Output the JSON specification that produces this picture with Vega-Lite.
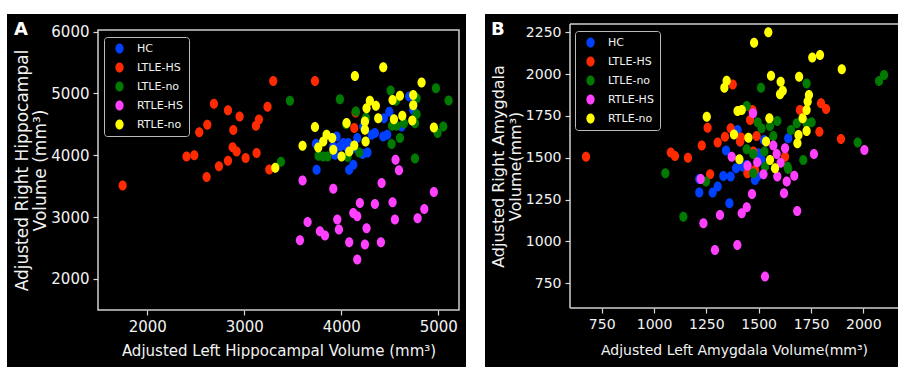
{
"$schema": "https://vega.github.io/schema/vega-lite/v6.json",
"background": "white",
"padding": {"left": 7, "top": 14, "right": 0, "bottom": 0},
"spacing": 19,
"config": {
  "view": {"fill": "black", "stroke": null},
  "font": "DejaVu Sans",
  "axis": {"domain": false, "grid": false, "format": "d", "labelColor": "#f2f2f2", "tickColor": "#d8d8d8", "tickSize": 5, "tickWidth": 1.2, "titleColor": "#f2f2f2", "titleFontWeight": "normal", "labelFont": "DejaVu Sans", "titleFont": "DejaVu Sans", "labelPadding": 4},
  "legend": {"title": null, "orient": "none", "symbolType": "M-0.82,0A0.82,1,0,1,0,0.82,0A0.82,1,0,1,0,-0.82,0Z", "symbolSize": 100, "symbolOpacity": 1, "symbolStrokeWidth": 0, "labelFontSize": 11, "labelColor": "#f2f2f2", "labelFont": "DejaVu Sans", "strokeColor": "#bbbbbb", "fillColor": "black", "padding": 6, "rowPadding": 7, "cornerRadius": 3, "symbolOffset": 4, "labelOffset": 12}
},
"resolve": {"scale": {"color": "independent", "x": "independent", "y": "independent"}, "legend": {"color": "independent"}},
"datasets": {
 "A": [
  {"g":"HC","x":3746,"y":3766},{"g":"HC","x":3739,"y":4186},{"g":"HC","x":3952,"y":4304},{"g":"HC","x":3918,"y":4143},{"g":"HC","x":3935,"y":4008},{"g":"HC","x":3986,"y":4143},{"g":"HC","x":4021,"y":4196},{"g":"HC","x":4072,"y":4196},{"g":"HC","x":4082,"y":3766},{"g":"HC","x":4124,"y":3847},{"g":"HC","x":4165,"y":4277},{"g":"HC","x":4227,"y":4466},{"g":"HC","x":4220,"y":4019},{"g":"HC","x":4271,"y":4046},{"g":"HC","x":4313,"y":4331},{"g":"HC","x":4347,"y":4358},{"g":"HC","x":4440,"y":4600},{"g":"HC","x":4433,"y":4304},{"g":"HC","x":4474,"y":4331},{"g":"HC","x":4495,"y":4703},{"g":"HC","x":4622,"y":4466},{"g":"HC","x":4701,"y":4950},{"g":"HC","x":4742,"y":4735},{"g":"HC","x":4010,"y":4170},{"g":"HC","x":4055,"y":4143},{"g":"HC","x":4124,"y":4116},
  {"g":"LTLE-HS","x":1746,"y":3510},{"g":"LTLE-HS","x":2405,"y":3981},{"g":"LTLE-HS","x":2485,"y":4000},{"g":"LTLE-HS","x":2612,"y":3647},{"g":"LTLE-HS","x":2536,"y":4374},{"g":"LTLE-HS","x":2619,"y":4493},{"g":"LTLE-HS","x":2687,"y":4832},{"g":"LTLE-HS","x":2739,"y":3820},{"g":"LTLE-HS","x":2832,"y":3910},{"g":"LTLE-HS","x":2832,"y":4729},{"g":"LTLE-HS","x":2887,"y":4408},{"g":"LTLE-HS","x":2880,"y":4130},{"g":"LTLE-HS","x":2921,"y":4062},{"g":"LTLE-HS","x":2952,"y":4627},{"g":"LTLE-HS","x":3014,"y":3957},{"g":"LTLE-HS","x":3127,"y":4035},{"g":"LTLE-HS","x":3120,"y":4476},{"g":"LTLE-HS","x":3151,"y":4578},{"g":"LTLE-HS","x":3240,"y":4786},{"g":"LTLE-HS","x":3258,"y":3768},{"g":"LTLE-HS","x":3299,"y":5203},{"g":"LTLE-HS","x":3729,"y":5203},{"g":"LTLE-HS","x":4134,"y":4439},{"g":"LTLE-HS","x":4148,"y":4690},
  {"g":"LTLE-no","x":3471,"y":4880},{"g":"LTLE-no","x":3378,"y":3895},{"g":"LTLE-no","x":3766,"y":3992},{"g":"LTLE-no","x":3814,"y":3981},{"g":"LTLE-no","x":3859,"y":3981},{"g":"LTLE-no","x":3986,"y":4907},{"g":"LTLE-no","x":4151,"y":4708},{"g":"LTLE-no","x":4247,"y":4573},{"g":"LTLE-no","x":4185,"y":4046},{"g":"LTLE-no","x":4509,"y":5047},{"g":"LTLE-no","x":4564,"y":4880},{"g":"LTLE-no","x":4522,"y":4476},{"g":"LTLE-no","x":4570,"y":4476},{"g":"LTLE-no","x":4605,"y":4277},{"g":"LTLE-no","x":4519,"y":4180},{"g":"LTLE-no","x":4646,"y":4519},{"g":"LTLE-no","x":4760,"y":3948},{"g":"LTLE-no","x":4777,"y":4923},{"g":"LTLE-no","x":4777,"y":4664},{"g":"LTLE-no","x":4760,"y":4519},{"g":"LTLE-no","x":4976,"y":5085},{"g":"LTLE-no","x":5052,"y":4466},{"g":"LTLE-no","x":5107,"y":4886},{"g":"LTLE-no","x":4993,"y":4358},{"g":"LTLE-no","x":4050,"y":4500},{"g":"LTLE-no","x":4254,"y":4606},{"g":"LTLE-no","x":4065,"y":3970},
  {"g":"RTLE-HS","x":3601,"y":3593},{"g":"RTLE-HS","x":3574,"y":2625},{"g":"RTLE-HS","x":3653,"y":2920},{"g":"RTLE-HS","x":3780,"y":2770},{"g":"RTLE-HS","x":3832,"y":2700},{"g":"RTLE-HS","x":3918,"y":3456},{"g":"RTLE-HS","x":3959,"y":2958},{"g":"RTLE-HS","x":3976,"y":2797},{"g":"RTLE-HS","x":4082,"y":2592},{"g":"RTLE-HS","x":4124,"y":3066},{"g":"RTLE-HS","x":4165,"y":3012},{"g":"RTLE-HS","x":4192,"y":3228},{"g":"RTLE-HS","x":4165,"y":2312},{"g":"RTLE-HS","x":4244,"y":2554},{"g":"RTLE-HS","x":4261,"y":2818},{"g":"RTLE-HS","x":4347,"y":3212},{"g":"RTLE-HS","x":4409,"y":2592},{"g":"RTLE-HS","x":4416,"y":3550},{"g":"RTLE-HS","x":4529,"y":3238},{"g":"RTLE-HS","x":4553,"y":2958},{"g":"RTLE-HS","x":4560,"y":3927},{"g":"RTLE-HS","x":4595,"y":3755},{"g":"RTLE-HS","x":4787,"y":2980},{"g":"RTLE-HS","x":4856,"y":3131},{"g":"RTLE-HS","x":4955,"y":3405},
  {"g":"RTLE-no","x":3320,"y":3798},{"g":"RTLE-no","x":3601,"y":4154},{"g":"RTLE-no","x":3729,"y":4455},{"g":"RTLE-no","x":3763,"y":4127},{"g":"RTLE-no","x":3814,"y":4224},{"g":"RTLE-no","x":3849,"y":4331},{"g":"RTLE-no","x":3907,"y":4277},{"g":"RTLE-no","x":3918,"y":4089},{"g":"RTLE-no","x":4003,"y":3981},{"g":"RTLE-no","x":4055,"y":4520},{"g":"RTLE-no","x":4082,"y":4062},{"g":"RTLE-no","x":4134,"y":4159},{"g":"RTLE-no","x":4141,"y":5284},{"g":"RTLE-no","x":4244,"y":4547},{"g":"RTLE-no","x":4244,"y":4412},{"g":"RTLE-no","x":4251,"y":4224},{"g":"RTLE-no","x":4261,"y":4762},{"g":"RTLE-no","x":4295,"y":4880},{"g":"RTLE-no","x":4357,"y":4800},{"g":"RTLE-no","x":4381,"y":4600},{"g":"RTLE-no","x":4433,"y":5424},{"g":"RTLE-no","x":4529,"y":4892},{"g":"RTLE-no","x":4543,"y":4584},{"g":"RTLE-no","x":4605,"y":4962},{"g":"RTLE-no","x":4629,"y":4638},{"g":"RTLE-no","x":4732,"y":4563},{"g":"RTLE-no","x":4742,"y":4973},{"g":"RTLE-no","x":4742,"y":4811},{"g":"RTLE-no","x":4828,"y":5176},{"g":"RTLE-no","x":4955,"y":4450}
 ],
 "B": [
  {"g":"HC","x":1216,"y":1374},{"g":"HC","x":1216,"y":1292},{"g":"HC","x":1280,"y":1292},{"g":"HC","x":1304,"y":1328},{"g":"HC","x":1331,"y":1391},{"g":"HC","x":1344,"y":1543},{"g":"HC","x":1366,"y":1388},{"g":"HC","x":1360,"y":1228},{"g":"HC","x":1392,"y":1437},{"g":"HC","x":1399,"y":1666},{"g":"HC","x":1411,"y":1597},{"g":"HC","x":1424,"y":1447},{"g":"HC","x":1443,"y":1457},{"g":"HC","x":1482,"y":1368},{"g":"HC","x":1493,"y":1388},{"g":"HC","x":1498,"y":1527},{"g":"HC","x":1514,"y":1487},{"g":"HC","x":1525,"y":1607},{"g":"HC","x":1641,"y":1617},
  {"g":"LTLE-HS","x":675,"y":1507},{"g":"LTLE-HS","x":1080,"y":1531},{"g":"LTLE-HS","x":1100,"y":1511},{"g":"LTLE-HS","x":1162,"y":1501},{"g":"LTLE-HS","x":1228,"y":1573},{"g":"LTLE-HS","x":1256,"y":1680},{"g":"LTLE-HS","x":1268,"y":1401},{"g":"LTLE-HS","x":1304,"y":1591},{"g":"LTLE-HS","x":1339,"y":1626},{"g":"LTLE-HS","x":1366,"y":1676},{"g":"LTLE-HS","x":1376,"y":1939},{"g":"LTLE-HS","x":1411,"y":1597},{"g":"LTLE-HS","x":1416,"y":1622},{"g":"LTLE-HS","x":1459,"y":1726},{"g":"LTLE-HS","x":1470,"y":1786},{"g":"LTLE-HS","x":1446,"y":1407},{"g":"LTLE-HS","x":1482,"y":1427},{"g":"LTLE-HS","x":1490,"y":1630},{"g":"LTLE-HS","x":1474,"y":1537},{"g":"LTLE-HS","x":1626,"y":1507},{"g":"LTLE-HS","x":1697,"y":1786},{"g":"LTLE-HS","x":1790,"y":1656},{"g":"LTLE-HS","x":1798,"y":1826},{"g":"LTLE-HS","x":1822,"y":1792},{"g":"LTLE-HS","x":1893,"y":1613},
  {"g":"LTLE-no","x":1054,"y":1407},{"g":"LTLE-no","x":1140,"y":1148},{"g":"LTLE-no","x":1248,"y":1358},{"g":"LTLE-no","x":1443,"y":1810},{"g":"LTLE-no","x":1443,"y":1551},{"g":"LTLE-no","x":1474,"y":1407},{"g":"LTLE-no","x":1474,"y":1523},{"g":"LTLE-no","x":1495,"y":1712},{"g":"LTLE-no","x":1511,"y":1919},{"g":"LTLE-no","x":1514,"y":1676},{"g":"LTLE-no","x":1527,"y":1537},{"g":"LTLE-no","x":1530,"y":1447},{"g":"LTLE-no","x":1554,"y":1690},{"g":"LTLE-no","x":1570,"y":1630},{"g":"LTLE-no","x":1589,"y":1720},{"g":"LTLE-no","x":1638,"y":1447},{"g":"LTLE-no","x":1641,"y":1433},{"g":"LTLE-no","x":1654,"y":1666},{"g":"LTLE-no","x":1682,"y":1706},{"g":"LTLE-no","x":1713,"y":1487},{"g":"LTLE-no","x":1729,"y":1945},{"g":"LTLE-no","x":1729,"y":1706},{"g":"LTLE-no","x":1753,"y":1712},{"g":"LTLE-no","x":1973,"y":1591},{"g":"LTLE-no","x":2075,"y":1959},{"g":"LTLE-no","x":2099,"y":1995},
  {"g":"RTLE-HS","x":1223,"y":1374},{"g":"RTLE-HS","x":1236,"y":1108},{"g":"RTLE-HS","x":1291,"y":949},{"g":"RTLE-HS","x":1315,"y":1158},{"g":"RTLE-HS","x":1371,"y":1507},{"g":"RTLE-HS","x":1398,"y":979},{"g":"RTLE-HS","x":1419,"y":1168},{"g":"RTLE-HS","x":1443,"y":1204},{"g":"RTLE-HS","x":1447,"y":1453},{"g":"RTLE-HS","x":1468,"y":1284},{"g":"RTLE-HS","x":1473,"y":1766},{"g":"RTLE-HS","x":1493,"y":1473},{"g":"RTLE-HS","x":1523,"y":1401},{"g":"RTLE-HS","x":1530,"y":790},{"g":"RTLE-HS","x":1570,"y":1573},{"g":"RTLE-HS","x":1586,"y":1523},{"g":"RTLE-HS","x":1589,"y":1388},{"g":"RTLE-HS","x":1605,"y":1471},{"g":"RTLE-HS","x":1626,"y":1557},{"g":"RTLE-HS","x":1621,"y":1288},{"g":"RTLE-HS","x":1634,"y":1358},{"g":"RTLE-HS","x":1670,"y":1393},{"g":"RTLE-HS","x":1684,"y":1182},{"g":"RTLE-HS","x":1764,"y":1523},{"g":"RTLE-HS","x":2005,"y":1547},
  {"g":"RTLE-no","x":1252,"y":1746},{"g":"RTLE-no","x":1336,"y":1919},{"g":"RTLE-no","x":1347,"y":1961},{"g":"RTLE-no","x":1382,"y":1640},{"g":"RTLE-no","x":1399,"y":1780},{"g":"RTLE-no","x":1419,"y":1786},{"g":"RTLE-no","x":1408,"y":1491},{"g":"RTLE-no","x":1451,"y":1620},{"g":"RTLE-no","x":1478,"y":2188},{"g":"RTLE-no","x":1535,"y":1597},{"g":"RTLE-no","x":1546,"y":2250},{"g":"RTLE-no","x":1551,"y":1736},{"g":"RTLE-no","x":1554,"y":1487},{"g":"RTLE-no","x":1559,"y":1991},{"g":"RTLE-no","x":1578,"y":1437},{"g":"RTLE-no","x":1605,"y":1955},{"g":"RTLE-no","x":1602,"y":1880},{"g":"RTLE-no","x":1615,"y":1901},{"g":"RTLE-no","x":1693,"y":1985},{"g":"RTLE-no","x":1685,"y":1587},{"g":"RTLE-no","x":1690,"y":1637},{"g":"RTLE-no","x":1710,"y":1736},{"g":"RTLE-no","x":1729,"y":1660},{"g":"RTLE-no","x":1729,"y":1786},{"g":"RTLE-no","x":1734,"y":1836},{"g":"RTLE-no","x":1740,"y":1875},{"g":"RTLE-no","x":1756,"y":2099},{"g":"RTLE-no","x":1793,"y":2115},{"g":"RTLE-no","x":1897,"y":2029}
 ]
},
"hconcat": [
 {
  "width": 459, "height": 353,
  "title": {"text": "A", "anchor": "start", "frame": "group", "offset": -25, "dx": 7, "fontSize": 18, "fontWeight": "bold", "color": "white", "font": "DejaVu Sans"},
  "data": {"name": "A"},
  "layer": [
   {
    "mark": {"type": "point", "filled": true, "opacity": 1, "size": 100, "strokeWidth": 0, "shape": "M-0.82,0A0.82,1,0,1,0,0.82,0A0.82,1,0,1,0,-0.82,0Z"},
    "encoding": {
     "x": {"field": "x", "type": "quantitative", "scale": {"domain": [1492, 5214], "range": [91, 452], "nice": false, "zero": false},
           "axis": {"values": [2000, 3000, 4000, 5000], "offset": -57, "title": "Adjusted Left Hippocampal Volume (mm³)", "labelFontSize": 15, "titleFontSize": 15, "titlePadding": 9}},
     "y": {"field": "y", "type": "quantitative", "scale": {"domain": [1495, 6027], "range": [296, 16], "nice": false, "zero": false},
           "axis": {"values": [2000, 3000, 4000, 5000, 6000], "offset": -91, "title": ["Adjusted Right Hippocampal", "Volume (mm³)"], "labelFontSize": 15, "titleFontSize": 17, "titleLineHeight": 18, "titlePadding": 1}},
     "color": {"field": "g", "type": "nominal", "scale": {"domain": ["HC", "LTLE-HS", "LTLE-no", "RTLE-HS", "RTLE-no"], "range": ["#0040ff", "#ff2a00", "#007a00", "#ff40ff", "#ffff00"]},
               "legend": {"legendX": 97, "legendY": 23}}
    }
   },
   {
    "data": {"values": [{}]},
    "mark": {"type": "rect", "filled": false, "stroke": "#d0d0d0", "strokeWidth": 1.5},
    "encoding": {"x": {"datum": 1492}, "x2": {"datum": 5214}, "y": {"datum": 1495}, "y2": {"datum": 6027}}
   }
  ]
 },
 {
  "width": 413, "height": 353,
  "title": {"text": "B", "anchor": "start", "frame": "group", "offset": -25, "dx": 6, "fontSize": 18, "fontWeight": "bold", "color": "white", "font": "DejaVu Sans"},
  "data": {"name": "B"},
  "layer": [
   {
    "mark": {"type": "point", "filled": true, "opacity": 1, "size": 100, "strokeWidth": 0, "shape": "M-0.82,0A0.82,1,0,1,0,0.82,0A0.82,1,0,1,0,-0.82,0Z"},
    "encoding": {
     "x": {"field": "x", "type": "quantitative", "scale": {"domain": [598.5, 2165.6], "range": [85, 413], "nice": false, "zero": false},
           "axis": {"values": [750, 1000, 1250, 1500, 1750, 2000], "offset": -59, "title": "Adjusted Left Amygdala Volume(mm³)", "labelFontSize": 14, "titleFontSize": 14, "titlePadding": 12}},
     "y": {"field": "y", "type": "quantitative", "scale": {"domain": [602, 2300], "range": [294, 10], "nice": false, "zero": false},
           "axis": {"values": [750, 1000, 1250, 1500, 1750, 2000, 2250], "offset": -85, "title": ["Adjusted Right Amygdala", "Volume(mm³)"], "labelFontSize": 14, "titleFontSize": 16, "titleLineHeight": 17, "titlePadding": 2}},
     "color": {"field": "g", "type": "nominal", "scale": {"domain": ["HC", "LTLE-HS", "LTLE-no", "RTLE-HS", "RTLE-no"], "range": ["#0040ff", "#ff2a00", "#007a00", "#ff40ff", "#ffff00"]},
               "legend": {"legendX": 90, "legendY": 17}}
    }
   },
   {
    "data": {"values": [{}]},
    "mark": {"type": "rule", "stroke": "#d0d0d0", "strokeWidth": 1.5},
    "encoding": {"x": {"datum": 598.5}, "y": {"datum": 602}, "y2": {"datum": 2300}}
   },
   {
    "data": {"values": [{}]},
    "mark": {"type": "rule", "stroke": "#d0d0d0", "strokeWidth": 1.5},
    "encoding": {"x": {"datum": 598.5}, "x2": {"datum": 2165.6}, "y": {"datum": 2300}}
   },
   {
    "data": {"values": [{}]},
    "mark": {"type": "rule", "stroke": "#d0d0d0", "strokeWidth": 1.5},
    "encoding": {"x": {"datum": 598.5}, "x2": {"datum": 2165.6}, "y": {"datum": 602}}
   }
  ]
 }
]
}
